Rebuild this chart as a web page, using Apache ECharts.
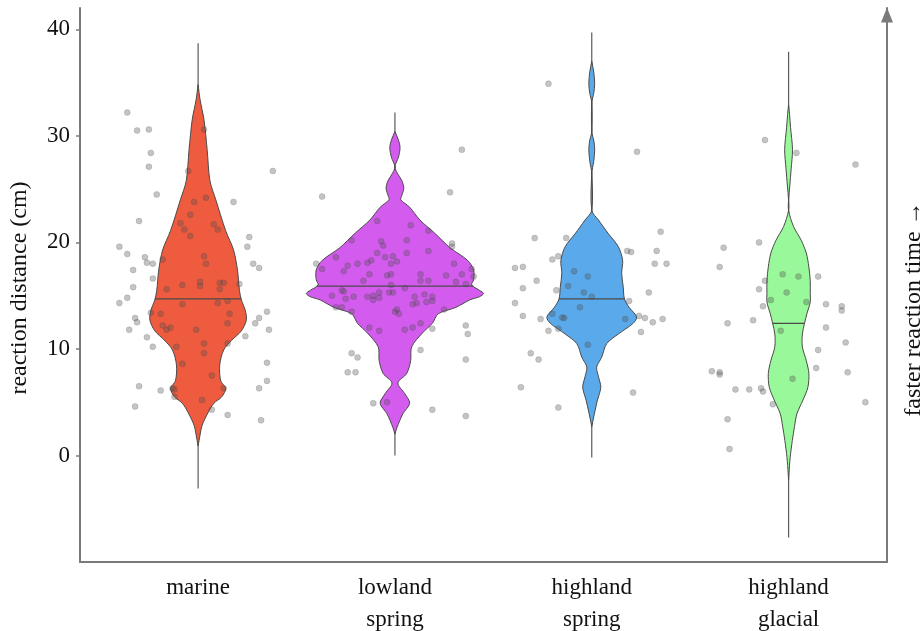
<!DOCTYPE html>
<html>
<head>
<meta charset="utf-8">
<script src="https://cdn.jsdelivr.net/npm/echarts@6/dist/echarts.min.js"></script>
<style>
html,body{margin:0;padding:0;background:#fff;}
#chart{width:924px;height:631px;}
</style>
</head>
<body>
<div id="chart"></div>
<script>
// ---------- data ----------
const categories = ['marine', 'lowland\nspring', 'highland\nspring', 'highland\nglacial'];
const yTicks = [0, 10, 20, 30, 40];
const medians = [14.7, 15.9, 14.7, 12.4];
const whiskerLow = [-3.1, 0.0, -0.2, -7.7];
const whiskerHigh = [38.7, 32.2, 39.7, 37.9];
const violinColors = ['#EE5B3F', '#D35CEE', '#5AA9EA', '#99F899'];

// density profiles: [value, half-width in category units]
const profileMarine = [[34.8,0],[33.4,0.01],[31.5,0.03],[28.7,0.046],[25.8,0.06],[24.0,0.09],[21.1,0.14],[19.3,0.18],[17.4,0.20],[15.5,0.21],[14.6,0.22],[13.6,0.24],[12.7,0.245],[11.7,0.22],[10.8,0.17],[9.9,0.13],[8.5,0.11],[7.0,0.115],[6.3,0.14],[5.5,0.12],[4.9,0.08],[4.0,0.05],[2.8,0.02],[1.4,0.005],[0.9,0]];
const profileLowland = [[30.4,0],[29.6,0.018],[28.9,0.026],[28.0,0.018],[27.1,0],[26.5,0.012],[25.8,0.035],[25.1,0.045],[24.4,0.035],[24.0,0.03],[23.3,0.075],[22.1,0.127],[20.9,0.20],[19.5,0.28],[18.3,0.37],[17.4,0.40],[16.5,0.40],[16.0,0.39],[15.5,0.43],[15.2,0.45],[14.9,0.43],[14.6,0.38],[13.9,0.31],[13.3,0.22],[12.4,0.19],[11.5,0.14],[10.2,0.085],[8.9,0.08],[7.7,0.06],[6.8,0.015],[5.8,0.05],[4.9,0.075],[3.9,0.04],[2.6,0.01],[2.0,0]];
const profileHighSpring = [[37.0,0],[36.0,0.01],[34.9,0.015],[34.0,0.01],[33.1,0],[30.4,0],[29.5,0.011],[28.7,0.015],[27.6,0.01],[26.5,0],[23.0,0],[22.1,0.034],[20.8,0.085],[19.6,0.135],[18.3,0.157],[17.1,0.152],[15.8,0.16],[14.7,0.166],[13.9,0.19],[13.0,0.228],[12.4,0.21],[11.4,0.135],[10.5,0.076],[9.2,0.05],[8.3,0.025],[7.4,0.034],[6.4,0.046],[5.2,0.029],[3.9,0.013],[2.7,0]];
const profileGlacial = [[32.9,0],[32.0,0.005],[30.8,0.01],[28.7,0.02],[26.9,0.013],[25.3,0.006],[24.0,0],[23.0,0],[21.5,0.025],[20.2,0.064],[19.0,0.09],[17.7,0.103],[16.4,0.11],[15.2,0.11],[14.4,0.11],[13.3,0.093],[12.4,0.081],[11.4,0.07],[10.2,0.07],[8.9,0.09],[7.7,0.103],[6.4,0.098],[5.2,0.073],[3.9,0.042],[2.7,0.03],[1.4,0.019],[-0.2,0.008],[-1.7,0.002],[-2.3,0]];

// jittered observations: [x position, reaction distance]
const pointsMarine = [[0.64,32.2],[0.69,30.5],[0.75,30.6],[0.76,28.4],[0.75,27.1],[0.79,24.5],[0.70,22.0],[0.60,19.6],[0.64,18.9],[0.67,17.4],[0.67,15.8],[0.64,14.8],[0.60,14.3],[0.73,18.6],[0.74,18.1],[0.77,18.0],[0.77,16.6],[0.76,13.4],[0.82,18.4],[0.95,26.7],[0.98,23.8],[1.04,24.2],[0.96,22.6],[0.91,21.8],[0.93,21.2],[0.96,20.6],[1.08,21.7],[1.10,21.2],[1.03,18.7],[1.04,18.0],[1.01,16.3],[1.01,15.9],[0.92,16.0],[0.84,15.6],[1.11,16.2],[1.13,16.2],[1.11,15.6],[1.21,16.1],[0.92,14.2],[1.10,14.3],[1.15,14.5],[1.16,13.3],[0.81,13.3],[1.18,23.8],[1.38,26.7],[1.26,20.5],[1.25,19.6],[1.28,18.0],[1.31,17.6],[1.35,13.5],[1.31,12.9],[0.68,12.9],[0.69,12.5],[0.65,11.8],[0.74,11.1],[0.77,10.2],[0.82,12.2],[0.84,11.8],[0.86,12.0],[0.99,11.8],[1.03,10.5],[1.03,9.6],[0.89,10.2],[0.92,8.6],[1.07,7.5],[0.87,6.3],[0.88,6.2],[0.88,5.5],[1.02,5.2],[1.07,4.3],[1.15,12.4],[1.15,10.5],[1.13,6.3],[0.70,6.5],[0.68,4.6],[0.81,6.1],[1.24,11.2],[1.29,12.4],[1.36,11.8],[1.35,8.7],[1.35,7.0],[1.31,6.3],[1.32,3.3],[1.15,3.8],[1.03,30.6]];
const pointsLowland = [[2.34,28.7],[2.28,24.7],[1.63,24.3],[2.17,21.1],[1.78,20.2],[2.29,19.9],[2.29,19.6],[1.60,18.0],[1.91,22.0],[2.08,21.6],[2.39,17.5],[2.40,16.8],[2.36,12.2],[2.37,11.4],[2.19,11.9],[2.36,9.0],[2.13,9.9],[1.78,9.6],[1.81,9.2],[1.76,7.8],[1.80,7.8],[2.19,4.3],[2.36,3.7],[1.89,4.9],[1.96,5.0],[1.93,20.1],[1.94,19.7],[2.06,20.2],[2.17,19.2],[1.91,19.0],[1.95,18.6],[1.99,18.7],[2.01,18.2],[1.98,18.0],[2.06,19.0],[1.70,18.6],[1.63,17.5],[1.74,17.3],[1.76,17.8],[1.81,18.0],[1.86,18.1],[1.88,18.3],[2.30,18.0],[1.87,17.0],[1.96,16.9],[1.98,17.0],[1.84,16.4],[2.13,17.0],[2.13,16.4],[2.17,16.4],[2.26,16.9],[2.34,17.0],[2.31,16.3],[2.36,16.1],[1.68,15.0],[1.73,15.5],[1.74,15.4],[1.75,14.7],[1.79,14.9],[1.86,14.9],[1.89,15.0],[1.89,14.6],[1.92,14.8],[1.92,15.3],[1.97,15.3],[1.99,15.3],[2.05,15.7],[1.98,16.0],[2.10,14.9],[2.11,14.3],[2.15,15.1],[2.16,14.4],[2.19,14.9],[2.19,14.5],[1.70,13.9],[1.73,13.9],[1.78,13.5],[2.00,13.5],[2.01,13.7],[2.02,13.3],[2.09,14.2],[2.25,13.7],[1.87,12.0],[1.92,11.7],[2.05,11.8],[2.09,12.0],[2.13,12.4]];
const pointsHighSpring = [[2.78,34.9],[2.71,20.4],[2.87,20.4],[2.61,17.6],[2.65,17.7],[2.80,18.4],[2.83,18.7],[2.72,16.4],[2.65,15.7],[2.61,14.3],[2.65,13.1],[2.74,12.8],[2.78,11.7],[2.83,11.9],[2.69,9.6],[2.73,9.0],[2.64,6.4],[2.83,4.5],[2.91,17.3],[2.98,16.8],[2.88,15.9],[2.96,15.3],[3.00,14.9],[2.94,13.9],[2.82,15.5],[2.80,13.3],[2.86,12.9],[2.85,12.95],[2.98,10.4],[3.17,12.8],[3.23,28.5],[3.35,21.0],[3.33,19.2],[3.18,19.2],[3.20,19.1],[3.32,18.0],[3.38,18.0],[3.29,15.3],[3.19,14.5],[3.24,13.1],[3.27,12.9],[3.31,12.5],[3.36,12.8],[3.25,11.6],[3.21,5.9]];
const pointsGlacial = [[3.88,29.6],[4.04,28.4],[4.34,27.3],[3.85,20.0],[3.67,19.5],[3.65,17.7],[3.88,16.4],[3.85,15.6],[3.97,17.0],[4.05,16.8],[4.15,16.8],[3.99,15.3],[3.91,14.6],[4.09,14.4],[3.87,14.0],[4.19,14.2],[4.27,14.0],[4.27,13.6],[3.82,12.7],[3.69,12.4],[3.96,11.7],[4.19,12.0],[4.29,10.6],[4.15,9.9],[4.14,8.2],[4.30,7.8],[3.61,7.9],[3.65,7.8],[3.65,7.6],[4.02,7.2],[3.73,6.2],[3.80,6.2],[3.86,6.3],[3.87,6.0],[3.92,4.8],[4.39,5.0],[3.69,3.4],[3.70,0.6]];

// ---------- chart ----------
const profiles = [profileMarine, profileLowland, profileHighSpring, profileGlacial];
const allPoints = [].concat(pointsMarine, pointsLowland, pointsHighSpring, pointsGlacial);
const FONT = '"Liberation Serif", "Times New Roman", serif';
const AXIS_GREY = '#7a7a7a';

function halfWidthAt(prof, v) {
  for (let i = 0; i < prof.length - 1; i++) {
    const a = prof[i], b = prof[i + 1];
    if ((v <= a[0] && v >= b[0])) {
      const t = (a[0] - v) / (a[0] - b[0]);
      return a[1] + t * (b[1] - a[1]);
    }
  }
  return 0;
}

const chart = echarts.init(document.getElementById('chart'), null, {renderer: 'canvas'});
chart.setOption({
  animation: false,
  backgroundColor: '#ffffff',
  grid: {left: 80, right: 37, top: 8, bottom: 69, containLabel: false, outerBoundsMode: 'none'},
  xAxis: {
    type: 'value', min: 0.4, max: 4.5,
    splitLine: {show: false},
    axisLine: {show: true, onZero: false, lineStyle: {color: AXIS_GREY, width: 2}},
    axisTick: {show: false},
    axisLabel: {
      customValues: [1, 2, 3, 4],
      formatter: v => categories[Math.round(v) - 1] || '',
      fontFamily: FONT, fontSize: 23, color: '#111', lineHeight: 32, margin: 10
    }
  },
  yAxis: [{
    type: 'value', min: -10, max: 42, position: 'left',
    splitLine: {show: false},
    axisLine: {show: true, onZero: false, lineStyle: {color: AXIS_GREY, width: 2}},
    axisTick: {show: true, customValues: yTicks, length: 4, lineStyle: {color: AXIS_GREY, width: 1.5}},
    axisLabel: {customValues: yTicks, fontFamily: FONT, fontSize: 23, color: '#111', margin: 10}
  }, {
    type: 'value', min: -10, max: 42, position: 'right',
    splitLine: {show: false},
    axisLine: {show: true, onZero: false, symbol: ['none', 'triangle'], symbolSize: [12, 15], symbolOffset: [0, -7],
      lineStyle: {color: AXIS_GREY, width: 2}},
    axisTick: {show: false},
    axisLabel: {show: false}
  }],
  graphic: [
    {type: 'text', x: 20, y: 288, rotation: Math.PI / 2,
      style: {text: 'reaction distance (cm)', font: '24px ' + FONT, fill: '#111', textAlign: 'center', textVerticalAlign: 'middle'}},
    {type: 'text', x: 914, y: 309, rotation: Math.PI / 2,
      style: {text: 'faster reaction time \u2192', font: '24px ' + FONT, fill: '#111', textAlign: 'center', textVerticalAlign: 'middle'}}
  ],
  series: [{
    type: 'custom',
    z: 2,
    data: categories.map((c, i) => [i + 1, medians[i]]),
    renderItem: function (params, api) {
      const cx = api.value(0);
      const g = params.dataIndex;
      const prof = profiles[g];
      const pts = [];
      prof.forEach(p => pts.push(api.coord([cx + p[1], p[0]])));
      for (let i = prof.length - 1; i >= 0; i--) pts.push(api.coord([cx - prof[i][1], prof[i][0]]));
      const top = api.coord([cx, whiskerHigh[g]]);
      const bot = api.coord([cx, whiskerLow[g]]);
      const med = api.value(1);
      const hw = halfWidthAt(prof, med);
      const mL = api.coord([cx - hw, med]);
      const mR = api.coord([cx + hw, med]);
      return {
        type: 'group',
        children: [
          {type: 'line', shape: {x1: top[0], y1: top[1], x2: bot[0], y2: bot[1]},
            style: {stroke: '#5a5a5a', lineWidth: 1.2}},
          {type: 'polygon', shape: {points: pts, smooth: 0.3},
            style: {fill: violinColors[g], stroke: '#4a4a4a', lineWidth: 1}},
          {type: 'line', shape: {x1: mL[0], y1: mL[1], x2: mR[0], y2: mR[1]},
            style: {stroke: '#4a4a4a', lineWidth: 1.2}}
        ]
      };
    }
  }, {
    type: 'scatter',
    z: 3,
    symbolSize: 6,
    data: allPoints,
    itemStyle: {color: 'rgba(80,80,80,0.42)', borderColor: 'rgba(60,60,60,0.35)', borderWidth: 0.6}
  }]
});
</script>
</body>
</html>
